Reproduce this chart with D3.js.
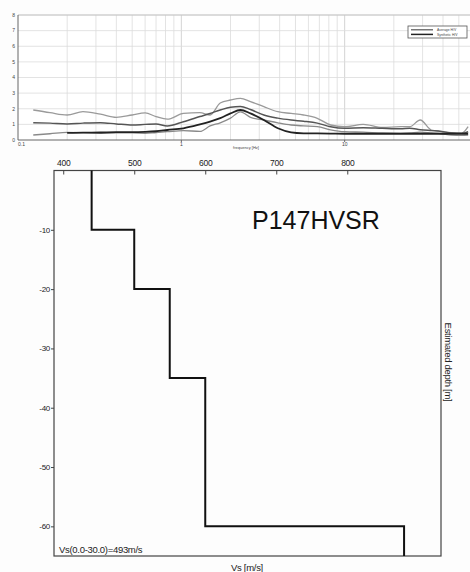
<!DOCTYPE html>
<html>
<head>
<meta charset="utf-8">
<script src="https://cdn.jsdelivr.net/npm/d3@7"></script>
<style>
  body { margin: 0; background: #fff; }
  svg { display: block; }
  text { font-family: "Liberation Sans", Arial, sans-serif; }
  .lbl { font-family: "Liberation Sans", Arial, sans-serif; letter-spacing: -0.3px; }
</style>
</head>
<body>
<div id="chart"></div>
<script>
// HVSR curves (frequency in Hz, amplitude H/V)
const freq      = [0.124, 0.157, 0.2, 0.25, 0.32, 0.4, 0.5, 0.6, 0.7, 0.82, 1.03, 1.3, 1.5, 1.73, 2.0, 2.3, 2.65, 3.2, 3.9, 4.7, 5.6, 6.8, 8.2, 10, 13, 17, 22, 25, 29, 34, 39, 45, 52, 57];
const hvUpper   = [1.92, 1.75, 1.6, 1.81, 1.65, 1.45, 1.6, 1.73, 1.5, 1.33, 1.7, 1.75, 1.6, 2.37, 2.56, 2.67, 2.46, 2.13, 1.81, 1.7, 1.6, 1.39, 0.96, 0.85, 1.0, 0.8, 0.85, 0.85, 1.28, 0.64, 0.55, 0.47, 0.43, 0.85];
const hvAverage = [1.11, 1.08, 1.03, 1.08, 1.11, 1.03, 0.96, 1.0, 1.03, 0.9, 1.17, 1.5, 1.7, 1.92, 2.1, 2.15, 1.95, 1.6, 1.4, 1.28, 1.2, 1.08, 0.85, 0.75, 0.79, 0.75, 0.72, 0.75, 0.66, 0.6, 0.55, 0.45, 0.43, 0.53];
const hvLower   = [0.32, 0.4, 0.49, 0.47, 0.43, 0.45, 0.45, 0.43, 0.48, 0.53, 0.6, 0.55, 0.9, 1.1, 1.4, 1.8, 1.45, 1.28, 1.1, 0.96, 0.9, 0.85, 0.65, 0.53, 0.5, 0.45, 0.43, 0.45, 0.5, 0.45, 0.4, 0.32, 0.3, 0.32];
const hvSynth   = [null, null, 0.45, 0.47, 0.48, 0.5, 0.5, 0.52, 0.56, 0.64, 0.75, 1.0, 1.18, 1.4, 1.7, 1.92, 1.7, 1.28, 0.75, 0.49, 0.43, 0.42, 0.41, 0.4, 0.4, 0.4, 0.4, 0.4, 0.4, 0.4, 0.4, 0.4, 0.4, 0.4];
const hvTicksY  = [0, 1, 2, 3, 4, 5, 6, 7, 8];
const hvTicksX  = [0.1, 1, 10];
const legendItems = ["Average H/V", "Synthetic H/V"];

// Vs profile
const layerTop  = [0, -10, -20, -35, -60];
const layerVs   = [440, 500, 550, 600, 880];
const profileBottom = -65;
const vsTicks   = [400, 500, 600, 700, 800];
const depthTicks = [-10, -20, -30, -40, -50, -60];
const siteName  = "P147HVSR";
const vs30Label = "Vs(0.0-30.0)=493m/s";

const W = 470, H = 572;
const svg = d3.select("#chart").append("svg").attr("width", W).attr("height", H);
svg.append("rect").attr("width", W).attr("height", H).attr("fill", "#fdfdfd");

// ---------- top panel: HVSR ----------
const hvBox = {left: 18, top: 15, right: 508, bottom: 140};
const fx = d3.scaleLog().domain([0.1, 100]).range([hvBox.left, hvBox.right]);
const fy = d3.scaleLinear().domain([0, 8]).range([hvBox.bottom, hvBox.top]);

const hv = svg.append("g");
hv.append("rect").attr("x", hvBox.left).attr("y", hvBox.top)
  .attr("width", hvBox.right - hvBox.left).attr("height", hvBox.bottom - hvBox.top)
  .attr("fill", "#fff");

// grid
const minor = [];
for (const dec of [0.1, 1, 10]) for (let k = 1; k <= 9; k++) minor.push(dec * k);
hv.append("g").selectAll("line").data(minor.filter(d => d > 0.1)).join("line")
  .attr("x1", d => fx(d)).attr("x2", d => fx(d))
  .attr("y1", hvBox.top).attr("y2", hvBox.bottom)
  .attr("stroke", d => hvTicksX.includes(d) ? "#c8c8c8" : "#dcdcdc").attr("stroke-width", 0.8);
hv.append("g").selectAll("line").data(hvTicksY.slice(1)).join("line")
  .attr("x1", hvBox.left).attr("x2", hvBox.right)
  .attr("y1", d => fy(d)).attr("y2", d => fy(d))
  .attr("stroke", "#dcdcdc").attr("stroke-width", 0.8);

// frame
hv.append("line").attr("x1", hvBox.left).attr("x2", hvBox.right).attr("y1", hvBox.top).attr("y2", hvBox.top)
  .attr("stroke", "#bbb").attr("stroke-width", 0.8);
hv.append("line").attr("x1", hvBox.left).attr("x2", hvBox.left).attr("y1", hvBox.top).attr("y2", hvBox.bottom)
  .attr("stroke", "#666").attr("stroke-width", 1);
hv.append("line").attr("x1", hvBox.left).attr("x2", hvBox.right).attr("y1", hvBox.bottom).attr("y2", hvBox.bottom)
  .attr("stroke", "#666").attr("stroke-width", 1);

// tick labels
hv.append("g").selectAll("text").data(hvTicksY).join("text")
  .attr("x", hvBox.left - 3).attr("y", d => fy(d) + 1.8)
  .attr("text-anchor", "end").attr("font-size", 5).attr("fill", "#444")
  .text(d => d);
hv.append("g").selectAll("text").data(hvTicksX).join("text")
  .attr("x", d => fx(d)).attr("y", hvBox.bottom + 6)
  .attr("text-anchor", d => d === 0.1 ? "start" : "middle").attr("font-size", 5).attr("fill", "#444")
  .text(d => d);
hv.append("g").selectAll("line").data(hvTicksX.slice(1)).join("line")
  .attr("x1", d => fx(d)).attr("x2", d => fx(d))
  .attr("y1", hvBox.bottom).attr("y2", hvBox.bottom + 2).attr("stroke", "#666");
hv.append("text").attr("x", 246).attr("y", hvBox.bottom + 8.5)
  .attr("text-anchor", "middle").attr("font-size", 4).attr("fill", "#444")
  .text("frequency [Hz]");

// curves
const curve = vals => d3.line()
  .defined((d, i) => vals[i] != null)
  .x((d, i) => fx(freq[i])).y((d, i) => fy(vals[i]))
  .curve(d3.curveMonotoneX)(vals);
const series = [
  {v: hvUpper,   c: "#9a9a9a", w: 1.3},
  {v: hvLower,   c: "#8a8a8a", w: 1.3},
  {v: hvAverage, c: "#555",    w: 1.5},
  {v: hvSynth,   c: "#222",    w: 1.8}
];
hv.append("g").selectAll("path").data(series).join("path")
  .attr("d", d => curve(d.v)).attr("fill", "none")
  .attr("stroke", d => d.c).attr("stroke-width", d => d.w).attr("stroke-linejoin", "round");

// legend
const lg = hv.append("g").attr("transform", "translate(408,26)");
lg.append("rect").attr("width", 59).attr("height", 12).attr("fill", "#fff").attr("stroke", "#555").attr("stroke-width", 0.8);
lg.selectAll("line").data(legendItems).join("line")
  .attr("x1", 3).attr("x2", 25).attr("y1", (d, i) => 3.8 + i * 4.6).attr("y2", (d, i) => 3.8 + i * 4.6)
  .attr("stroke", (d, i) => i ? "#222" : "#555").attr("stroke-width", (d, i) => i ? 1.5 : 1.2);
lg.selectAll("text").data(legendItems).join("text")
  .attr("x", 29).attr("y", (d, i) => 5 + i * 4.6).attr("font-size", 3.4).attr("fill", "#444")
  .text(d => d);

// ---------- bottom panel: Vs profile ----------
const vsBox = {left: 54, top: 170.5, right: 441, bottom: 556};
const vx = d3.scaleLinear().domain([387, 932]).range([vsBox.left, vsBox.right]);
const vy = d3.scaleLinear().domain([0, -65]).range([vsBox.top, vsBox.bottom]);

const vs = svg.append("g");
vs.append("rect").attr("x", vsBox.left).attr("y", vsBox.top)
  .attr("width", vsBox.right - vsBox.left).attr("height", vsBox.bottom - vsBox.top)
  .attr("fill", "none").attr("stroke", "#444").attr("stroke-width", 1.2);

vs.append("g").attr("transform", `translate(0,${vsBox.top})`)
  .call(d3.axisTop(vx).tickValues(vsTicks).tickSize(-4).tickPadding(4.5).tickFormat(d => String(d)))
  .call(g => g.select(".domain").remove())
  .call(g => g.selectAll("line").attr("stroke", "#444"))
  .call(g => g.selectAll("text").attr("class", "lbl").attr("font-size", 8.5).attr("fill", "#222"));

vs.append("g").attr("transform", `translate(${vsBox.left},0)`)
  .call(d3.axisLeft(vy).tickValues(depthTicks).tickSize(3).tickPadding(1).tickFormat(d => String(d)))
  .call(g => g.select(".domain").remove())
  .call(g => g.selectAll("line").attr("stroke", "#444"))
  .call(g => g.selectAll("text").attr("class", "lbl").attr("font-size", 8).attr("fill", "#222"));

// step profile
const pts = [];
layerVs.forEach((v, i) => {
  const bottom = i < layerTop.length - 1 ? layerTop[i + 1] : profileBottom;
  pts.push([v, layerTop[i]], [v, bottom]);
});
vs.append("path")
  .attr("d", d3.line().x(d => vx(d[0])).y(d => vy(d[1]))(pts))
  .attr("fill", "none").attr("stroke", "#111").attr("stroke-width", 2);

vs.append("text").attr("x", 252).attr("y", 229)
  .attr("font-size", 25).attr("fill", "#111").text(siteName);
vs.append("text").attr("class", "lbl").attr("x", 59).attr("y", 553)
  .attr("font-size", 9.5).attr("fill", "#222").text(vs30Label);
vs.append("text").attr("class", "lbl").attr("x", 247).attr("y", 571)
  .attr("text-anchor", "middle").attr("font-size", 9.5).attr("fill", "#222").text("Vs [m/s]");
vs.append("text").attr("class", "lbl")
  .attr("transform", "translate(445,362) rotate(90)")
  .attr("text-anchor", "middle").attr("font-size", 9.5).attr("fill", "#222").text("Estimated depth [m]");
</script>
</body>
</html>
